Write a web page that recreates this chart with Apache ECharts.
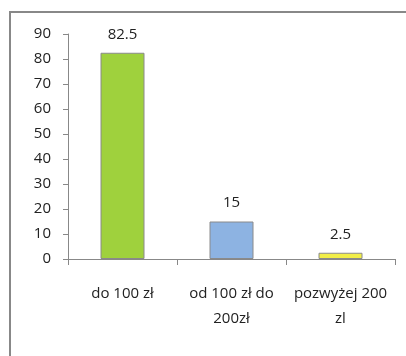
<!DOCTYPE html>
<html lang="pl">
<head>
    <meta charset="UTF-8">
    <title>wykres</title>
    <style>
        html, body { margin: 0; padding: 0; background: #fff; }
        #chart { width: 406px; height: 356px; }
    </style>
</head>
<body>
<div id="chart"></div>
<script src="https://cdn.jsdelivr.net/npm/echarts@6/dist/echarts.min.js"></script>
<script>
    // dane wykresu
    var categories = ['do 100 zł', 'od 100 zł do\n200zł', 'pozwyżej 200\nzl'];
    var values = [82.5, 15, 2.5];
    var barColors = ['#9fd13d', '#8db3e2', '#f1ee48'];
    var yTicks = [0, 10, 20, 30, 40, 50, 60, 70, 80, 90];

    var myChart = echarts.init(document.getElementById('chart'));
    var font = 'Open Sans';

    var option = {
        animation: false,
        graphic: [{
            type: 'rect',
            shape: { x: 10, y: 12, width: 600, height: 600 },
            style: { fill: 'none', stroke: '#888', lineWidth: 2 }
        }],
        grid: { left: 68, right: 11, top: 34, bottom: 97 },
        xAxis: {
            type: 'category',
            data: categories,
            axisLine: { lineStyle: { color: '#888' } },
            axisTick: { show: true, length: 6, lineStyle: { color: '#888' } },
            axisLabel: {
                interval: 0,
                color: '#222', fontFamily: font, fontSize: 15,
                lineHeight: 25, margin: 22
            }
        },
        yAxis: {
            type: 'value',
            min: yTicks[0],
            max: yTicks[yTicks.length - 1],
            interval: 10,
            axisLine: { show: true, lineStyle: { color: '#888' } },
            axisTick: { show: true, length: 5, lineStyle: { color: '#888' } },
            splitLine: { show: false },
            axisLabel: { color: '#222', fontFamily: font, fontSize: 15, margin: 17 }
        },
        series: [{
            type: 'bar',
            barWidth: 44,
            data: values.map(function (v, i) {
                return { value: v, itemStyle: { color: barColors[i] } };
            }),
            itemStyle: { borderColor: '#8a8a8a', borderWidth: 1 },
            label: {
                show: true, position: 'top', distance: 11,
                color: '#222', fontFamily: font, fontSize: 15
            }
        }]
    };
    myChart.setOption(option);
</script>
</body>
</html>
